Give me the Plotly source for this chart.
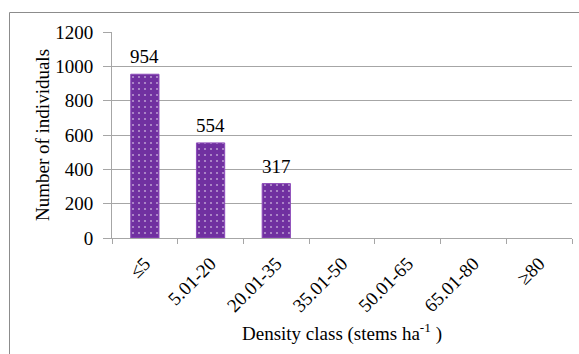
import plotly.graph_objects as go

# Density classes and the number of individuals in each
classes = ["≤5", "5.01-20", "20.01-35", "35.01-50", "50.01-65", "65.01-80", "≥80"]
counts = [954, 554, 317, 0, 0, 0, 0]
y_ticks = [0, 200, 400, 600, 800, 1000, 1200]

W, H = 579, 354
ml, mr, mt, mb = 112, 7, 32, 116
pw, ph = W - ml - mr, H - mt - mb

def px_x(p):
    return (p - ml) / pw

def px_y(p):
    return (H - mb - p) / ph

font = "Liberation Serif, Times New Roman, serif"
grid = "#A6A6A6"
fs = 19

fig = go.Figure(
    go.Bar(
        x=classes,
        y=counts,
        cliponaxis=False,
        marker=dict(
            color="#7030A0",
            line=dict(color="#8E4DBA", width=[1 if c > 0 else 0 for c in counts]),
            pattern=dict(shape=".", fgcolor="white", bgcolor="#7030A0",
                         size=6, solidity=0.1),
        ),
    )
)

# value labels above the non-empty bars
for cls, val in zip(classes, counts):
    if val > 0:
        fig.add_annotation(x=cls, y=val, text=str(val), showarrow=False,
                           yanchor="bottom", yshift=5,
                           font=dict(family=font, size=fs, color="black"))

fig.update_layout(
    width=W,
    height=H,
    margin=dict(l=ml, r=mr, t=mt, b=mb),
    paper_bgcolor="white",
    plot_bgcolor="white",
    bargap=0.57,
    showlegend=False,
    font=dict(family=font, size=fs, color="black"),
    shapes=[
        dict(type="rect", xref="paper", yref="paper",
             x0=px_x(9.5), x1=px_x(600), y0=px_y(12.5), y1=px_y(380),
             line=dict(color="#8C8C8C", width=1), layer="below"),
    ],
)

fig.update_xaxes(
    type="category",
    tickangle=-45,
    tickson="boundaries",
    ticks="outside",
    ticklen=5,
    tickcolor=grid,
    ticklabelstandoff=6,
    showline=True,
    linecolor=grid,
    linewidth=1,
    showgrid=False,
    tickfont=dict(family=font, size=fs),
    title=dict(text="Density class (stems ha<sup>-1</sup> )",
               font=dict(family=font, size=fs), standoff=11),
)

fig.update_yaxes(
    range=[0, 1200],
    tickvals=y_ticks,
    ticks="outside",
    ticklen=8,
    tickcolor=grid,
    ticklabelstandoff=6,
    showline=True,
    linecolor=grid,
    linewidth=1,
    showgrid=True,
    gridcolor=grid,
    gridwidth=1,
    zeroline=False,
    tickfont=dict(family=font, size=fs),
    title=dict(text="Number of individuals", font=dict(family=font, size=fs),
               standoff=0),
)

fig.write_html("out.html")
